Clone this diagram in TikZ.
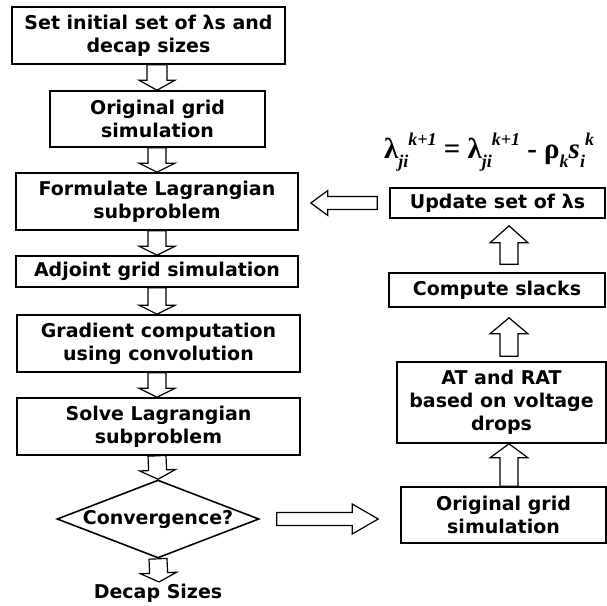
\documentclass[tikz,border=0pt]{standalone}
\usepackage{fontspec}
\setmainfont{DejaVu Sans}
\newfontfamily\formulafont{Liberation Serif}
\usetikzlibrary{calc,shapes.geometric}

% Hollow block arrow: start, end, shaft half-width, head half-width, head length
\newcommand{\blockarrow}[5]{%
  \coordinate (ba-h) at ($(#2)!#5!(#1)$);
  \draw[blockarr]
    ($(#1)!#3!90:(#2)$) -- ($(ba-h)!#3!90:(#2)$) -- ($(ba-h)!#4!90:(#2)$) --
    (#2) --
    ($(ba-h)!#4!-90:(#2)$) -- ($(ba-h)!#3!-90:(#2)$) -- ($(#1)!#3!-90:(#2)$) -- cycle;
}
\newcommand{\sbx}[1]{\raisebox{-0.3em}{\itshape\fontsize{18}{18}\selectfont #1}}
\newcommand{\spx}[1]{\raisebox{0.45em}{\itshape\fontsize{18}{18}\selectfont #1}}

\tikzset{
  procbox/.style={draw=black, line width=1.6pt, align=center, inner sep=0pt,
    font=\fontsize{19}{23}\selectfont\bfseries},
  decision/.style={draw=black, line width=1.6pt, shape=diamond, inner sep=0pt,
    minimum width=202pt, minimum height=78pt, aspect=2.59,
    font=\fontsize{19}{23}\selectfont\bfseries},
  plainlabel/.style={inner sep=0pt, font=\fontsize{19}{23}\selectfont\bfseries},
  blockarr/.style={draw=black, fill=white, line width=1.2pt, line join=miter},
}

\begin{document}
\begin{tikzpicture}[x=1pt, y=-1pt]
  \useasboundingbox (0,0) rectangle (607,605);

  % main flow (left column)
  \node[procbox, minimum width=273pt, minimum height=57pt] (b1) at (148.5,35.5)
    {Set initial set of λs and\\decap sizes};
  \node[procbox, minimum width=215pt, minimum height=56pt] (b2) at (157.5,119)
    {Original grid\\simulation};
  \node[procbox, minimum width=282pt, minimum height=57pt] (b3) at (157,201.5)
    {Formulate Lagrangian\\subproblem};
  \node[procbox, minimum width=282pt, minimum height=31pt] (b4) at (157,271.5)
    {Adjoint grid simulation};
  \node[procbox, minimum width=283pt, minimum height=57pt] (b5) at (158.5,343.5)
    {Gradient computation\\using convolution};
  \node[procbox, minimum width=283pt, minimum height=57pt] (b6) at (158.5,426.5)
    {Solve Lagrangian\\subproblem};
  \node[decision] (dia) at (158,519) {\makebox[0pt]{Convergence?}};
  \node[plainlabel] (out) at (158,593) {Decap Sizes};

  % multiplier update loop (right column)
  \node[inner sep=0pt, font=\formulafont\fontsize{29}{29}\selectfont\bfseries] (eq) at (489,152)
    {λ\sbx{ji}\spx{k+1} = λ\sbx{ji}\spx{k+1} - ρ\sbx{k}{\itshape s}\sbx{i}\spx{k}};
  \node[procbox, minimum width=215pt, minimum height=30pt] (up) at (497.5,203)
    {Update set of λs};
  \node[procbox, minimum width=216pt, minimum height=34pt] (sl) at (497,290)
    {Compute slacks};
  \node[procbox, minimum width=209pt, minimum height=81pt] (at) at (501.5,402.5)
    {AT and RAT\\based on voltage\\drops};
  \node[procbox, minimum width=205pt, minimum height=56pt] (og) at (503.5,515)
    {Original grid\\simulation};

  % connector end points
  \coordinate (cx) at (157,0);
  \coordinate (rx) at (509,0);
  \coordinate (dend) at (159,582);
  \coordinate (s1) at ($(rx |- at.north)+(0,-5)$);
  \coordinate (e1) at ($(rx |- sl.south)+(0,10)$);
  \coordinate (s2) at ($(rx |- sl.north)+(0,-8)$);
  \coordinate (e2) at ($(rx |- up.south)+(0,7)$);
  \coordinate (s3) at ($(up.west)+(-12,0)$);
  \coordinate (e3) at ($(b3.east |- up.west)+(12,0)$);
  \coordinate (s4) at ($(dia.east)+(17,0)$);
  \coordinate (e4) at ($(og.west |- dia.east)+(-22,0)$);

  % downward arrows
  \blockarrow{cx |- b1.south}{cx |- b2.north}{10pt}{18pt}{10pt}
  \blockarrow{cx |- b2.south}{cx |- b3.north}{9pt}{18pt}{9pt}
  \blockarrow{cx |- b3.south}{cx |- b4.north}{9pt}{18pt}{9pt}
  \blockarrow{cx |- b4.south}{cx |- b5.north}{9pt}{18pt}{9pt}
  \blockarrow{cx |- b5.south}{cx |- b6.north}{9pt}{18pt}{9pt}
  \blockarrow{cx |- b6.south}{dia.north}{9pt}{18pt}{9pt}
  \blockarrow{dia.south}{dend}{9pt}{18pt}{9pt}

  % loop arrows
  \blockarrow{s4}{e4}{6.5pt}{15pt}{26pt}
  \blockarrow{rx |- og.north}{rx |- at.south}{9pt}{19pt}{14pt}
  \blockarrow{s1}{e1}{9pt}{19pt}{16pt}
  \blockarrow{s2}{e2}{9pt}{19pt}{17pt}
  \blockarrow{s3}{e3}{6.5pt}{12.5pt}{17pt}
\end{tikzpicture}
\end{document}
